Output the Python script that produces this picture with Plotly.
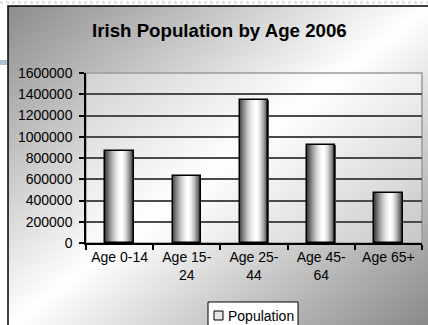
import base64
import plotly.graph_objects as go

# Census 2006 population by age group
categories = ["Age 0-14", "Age 15-<br>24", "Age 25-<br>44", "Age 45-<br>64", "Age 65+"]
population = [864000, 631000, 1350000, 920000, 468000]
y_ticks = [0, 200000, 400000, 600000, 800000, 1000000, 1200000, 1400000, 1600000]

W, H = 428, 325
ML, MR, MT, MB = 86, 6, 73, 82
PW, PH = W - ML - MR, H - MT - MB


def px(x):
    return (x - ML) / PW


def py(y):
    return (H - MB - y) / PH


FONT = "Liberation Sans, Arial, sans-serif"

fig = go.Figure()

# cylinder-style bars: narrow vertical slices shaded dark-light-dark, then an outline
bar_w = 0.42
n_slices = 28
slice_w = bar_w / n_slices
for i in range(n_slices):
    u = (i + 0.5) / n_slices
    d = abs(u - 0.58) / (0.58 if u < 0.58 else 0.42)
    g = int(round(255 - 200 * d ** 1.6))
    fig.add_trace(go.Bar(
        x=categories, y=population,
        width=slice_w * 1.15, offset=-bar_w / 2 + i * slice_w,
        marker=dict(color=f"rgb({g},{g},{g})", line=dict(width=0)),
        showlegend=False, hoverinfo="skip",
    ))
fig.add_trace(go.Bar(
    x=categories, y=population, name="Population",
    width=bar_w, offset=-bar_w / 2,
    marker=dict(color="rgba(0,0,0,0)", line=dict(color="black", width=1.5)),
    showlegend=False,
))

# diagonal grey-white-grey chart background
svg = (
    '<svg xmlns="http://www.w3.org/2000/svg" width="420" height="320" '
    'preserveAspectRatio="none" viewBox="0 0 420 320">'
    '<defs><linearGradient id="g" x1="0" y1="0" x2="1" y2="1">'
    '<stop offset="0" stop-color="#8c8c8c"/>'
    '<stop offset="0.5" stop-color="#ffffff"/>'
    '<stop offset="1" stop-color="#888888"/>'
    '</linearGradient></defs>'
    '<rect width="420" height="320" fill="url(#g)"/></svg>'
)
src = "data:image/svg+xml;base64," + base64.b64encode(svg.encode()).decode()
fig.add_layout_image(
    source=src, xref="paper", yref="paper",
    x=px(8), y=py(6), sizex=(430 - 8) / PW, sizey=(327 - 6) / PH,
    xanchor="left", yanchor="top", sizing="stretch", layer="below",
)

shapes = [
    # plot area wash and border
    dict(type="rect", xref="paper", yref="paper", x0=0, x1=1, y0=0, y1=1,
         fillcolor="rgba(255,255,255,0.35)", line=dict(color="#9a9a9a", width=1.5),
         layer="below"),
    # chart frame
    dict(type="rect", xref="paper", yref="paper", x0=px(8), x1=px(440), y0=py(6), y1=py(340),
         fillcolor="rgba(0,0,0,0)", line=dict(color="black", width=1.5), layer="above"),
    # page strip above the chart
    dict(type="line", xref="paper", yref="paper", x0=px(0), x1=px(428), y0=py(2.5), y1=py(2.5),
         line=dict(color="#dfe4ea", width=3, dash="dot")),
    dict(type="rect", xref="paper", yref="paper", x0=px(0), x1=px(7), y0=py(60), y1=py(65),
         fillcolor="#a9c1d9", line=dict(width=0)),
    # legend box and key
    dict(type="rect", xref="paper", yref="paper", x0=px(208), x1=px(298), y0=py(302), y1=py(335),
         fillcolor="white", line=dict(color="black", width=1), layer="above"),
    dict(type="rect", xref="paper", yref="paper", x0=px(214), x1=px(223), y0=py(311), y1=py(320),
         fillcolor="#e6e6e6", line=dict(color="black", width=1), layer="above"),
]

annotations = [
    dict(text="<b>Irish Population by Age 2006</b>", xref="paper", yref="paper",
         x=px(219.5), y=py(30), xanchor="center", yanchor="middle", showarrow=False,
         font=dict(family=FONT, size=18.7, color="black")),
    dict(text="Population", xref="paper", yref="paper",
         x=px(226), y=py(315.5), xanchor="left", yanchor="middle", showarrow=False,
         font=dict(family=FONT, size=14, color="black")),
]

fig.update_layout(
    width=W, height=H,
    margin=dict(l=ML, r=MR, t=MT, b=MB, pad=0),
    paper_bgcolor="white", plot_bgcolor="rgba(0,0,0,0)",
    barmode="overlay", bargap=0,
    showlegend=False,
    shapes=shapes, annotations=annotations,
    font=dict(family=FONT, size=14, color="black"),
)
fig.update_xaxes(
    type="category", showgrid=False, showline=True, linecolor="black", linewidth=1.5,
    ticks="outside", ticklen=5, tickcolor="black", tickwidth=1.5, tickson="boundaries",
    tickfont=dict(family=FONT, size=14, color="black"), tickangle=0,
)
fig.update_yaxes(
    range=[0, 1600000], tickvals=y_ticks, tickformat="d",
    showgrid=True, gridcolor="#4a4a4a", gridwidth=1.5, zeroline=False,
    showline=True, linecolor="black", linewidth=1.5,
    ticks="outside", ticklen=5, tickcolor="black", tickwidth=1.5,
    tickfont=dict(family=FONT, size=14, color="black"), ticklabelstandoff=4,
)

fig.write_html("out.html")
